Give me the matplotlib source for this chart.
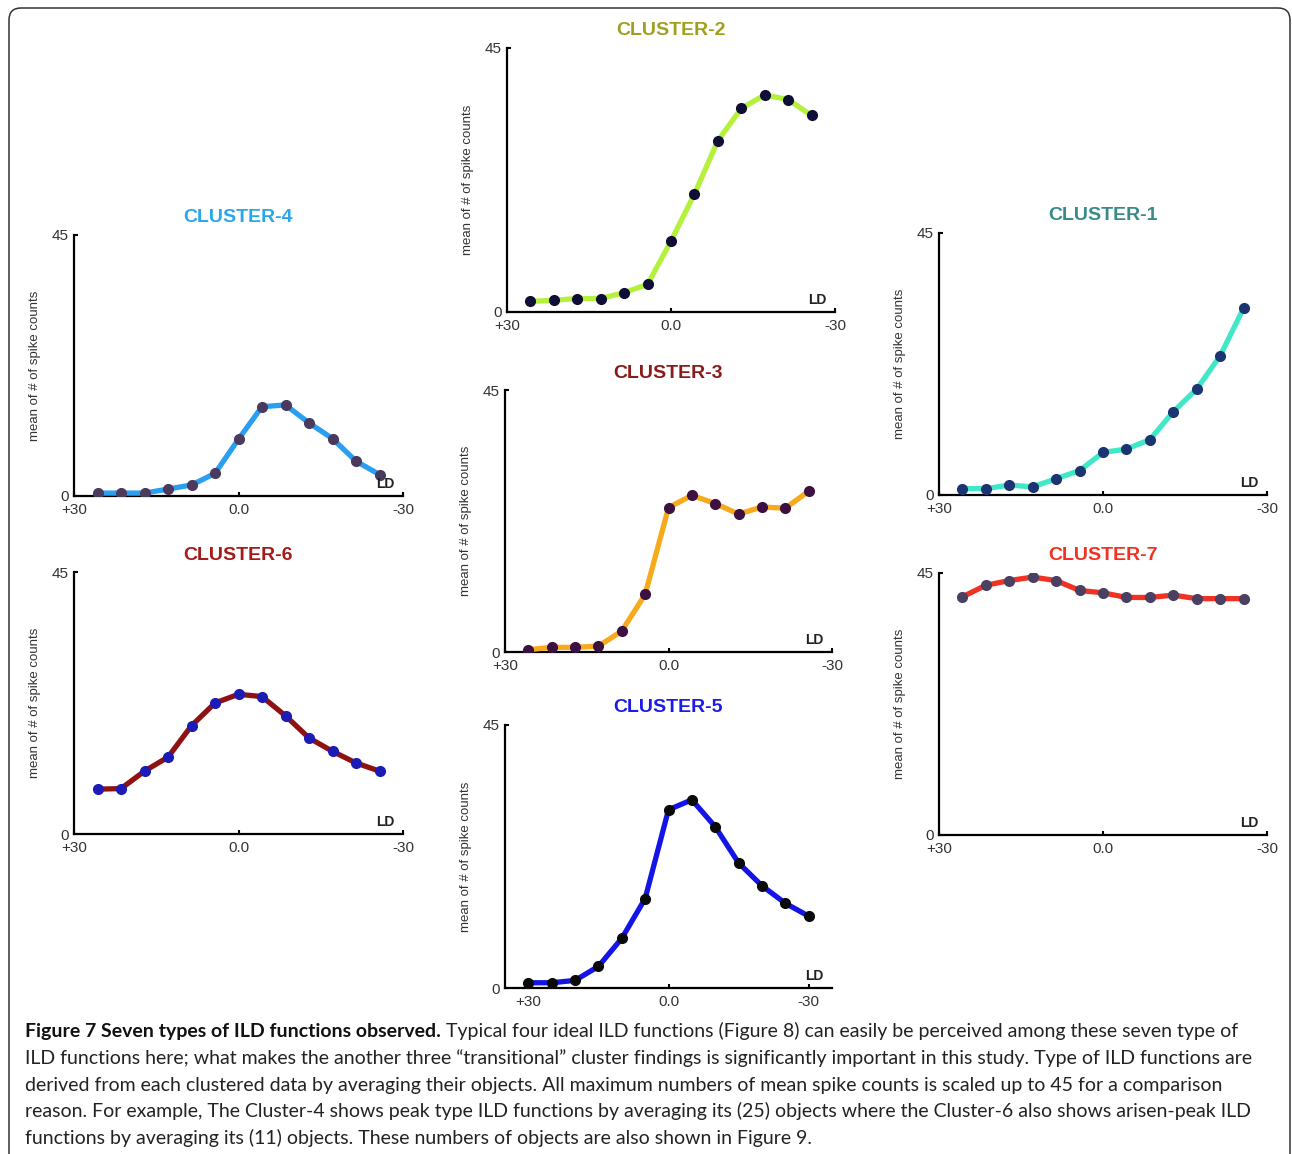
import matplotlib
matplotlib.use("Agg")
import matplotlib.pyplot as plt
from matplotlib.patches import FancyBboxPatch

W, H = 1292, 1154

# ILD steps (dB), +30 on the left to -30 on the right
ild = [30, 25, 20, 15, 10, 5, 0, -5, -10, -15, -20, -25, -30]

# mean spike counts per cluster
cluster1 = [1.1, 1.1, 1.7, 1.4, 2.8, 4.2, 7.3, 7.9, 9.5, 14.3, 18.2, 23.9, 32.1]
cluster2 = [1.8, 2.0, 2.3, 2.3, 3.3, 4.7, 12.1, 20.1, 29.2, 34.7, 37.0, 36.2, 33.5]
cluster3 = [0.4, 0.8, 0.8, 1.0, 3.6, 9.9, 24.8, 26.9, 25.5, 23.7, 24.9, 24.7, 27.6]
cluster4 = [0.5, 0.5, 0.5, 1.2, 1.9, 3.9, 9.8, 15.4, 15.7, 12.6, 9.9, 6.0, 3.7]
cluster5 = [0.9, 0.9, 1.3, 3.7, 8.5, 15.3, 30.5, 32.2, 27.6, 21.4, 17.5, 14.5, 12.3]
cluster6 = [7.7, 7.8, 10.8, 13.2, 18.6, 22.5, 24.0, 23.6, 20.3, 16.5, 14.2, 12.2, 10.8]
cluster7 = [40.9, 42.9, 43.7, 44.3, 43.7, 42.0, 41.6, 40.8, 40.8, 41.2, 40.6, 40.6, 40.6]

caption_bold = "Figure 7 Seven types of ILD functions observed."
caption_lines = [
    " Typical four ideal ILD functions (Figure 8) can easily be perceived among these seven type of",
    "ILD functions here; what makes the another three \u201ctransitional\u201d cluster findings is significantly important in this study. Type of ILD functions are",
    "derived from each clustered data by averaging their objects. All maximum numbers of mean spike counts is scaled up to 45 for a comparison",
    "reason. For example, The Cluster-4 shows peak type ILD functions by averaging its (25) objects where the Cluster-6 also shows arisen-peak ILD",
    "functions by averaging its (11) objects. These numbers of objects are also shown in Figure 9.",
]

fig = plt.figure(figsize=(W / 100, H / 100), dpi=100)

# rounded frame around the whole figure (bottom runs off the page)
frame = FancyBboxPatch((0.09, -0.3), 12.81, 11.46 + 0.3,
                       boxstyle="round,pad=0,rounding_size=0.12",
                       transform=fig.dpi_scale_trans, fill=False,
                       edgecolor="#333333", linewidth=1.1)
fig.patches.append(frame)


def panel(left, right, top, bottom, title, ys, line_c, mark_c, title_c, ticks_on_data=False):
    ax = fig.add_axes([left / W, 1 - bottom / H, (right - left) / W, (bottom - top) / H])
    ax.plot(ild, ys, color=line_c, lw=3.8, marker="o", ms=7,
            mfc=mark_c, mec=mark_c, solid_joinstyle="round", zorder=3)
    ax.set_xlim(35, -35)
    ax.set_ylim(0, 45)
    for s in ["top", "right"]:
        ax.spines[s].set_visible(False)
    for s in ["left", "bottom"]:
        ax.spines[s].set_linewidth(1.6)
        ax.spines[s].set_color("black")
    ax.set_yticks([0, 45])
    ax.set_yticklabels(["0", "45"])
    if ticks_on_data:
        ax.set_xticks([30, 0, -30])
    else:
        ax.set_xticks([35, 0, -35])
    ax.set_xticklabels(["+30", "0.0", "-30"])
    ax.tick_params(direction="in", length=3, width=1.5,
                   labelsize=11, labelcolor="#333333")
    ax.tick_params(axis="x", pad=5)
    ax.tick_params(axis="y", pad=4)
    for lab in ax.get_xticklabels() + ax.get_yticklabels():
        lab.set_family("Liberation Sans")
    w = right - left
    h = bottom - top
    ax.text(0.5, 1 + 17 / h, title, transform=ax.transAxes, ha="center", va="center",
            fontsize=14, fontweight="bold", color=title_c, family="Liberation Sans")
    ax.text(-39 / w, 0.5, "mean of # of spike counts", transform=ax.transAxes,
            rotation=90, ha="center", va="center", fontsize=9.5, color="#333333",
            family="Liberation Sans")
    ax.text(1 - 18 / w, 12 / h, "LD", transform=ax.transAxes, ha="center", va="center",
            fontsize=10, fontweight="bold", color="#222222", family="Liberation Sans")
    return ax


panel(74, 403, 235, 496, "CLUSTER-4", cluster4, "#2a9ef0", "#4b3a5e", "#2aa6ec")
panel(74, 403, 572, 834, "CLUSTER-6", cluster6, "#8e1212", "#1c1cb4", "#a51a1a")
panel(507, 835, 48, 312, "CLUSTER-2", cluster2, "#b4f03c", "#0e0e36", "#a0a020")
panel(505, 832, 390, 652, "CLUSTER-3", cluster3, "#f6aa1c", "#3c1040", "#8b1a1a")
panel(505, 832, 725, 988, "CLUSTER-5", cluster5, "#1414e6", "#0a0a0a", "#1c1ce8", ticks_on_data=True)
panel(939, 1267, 233, 495, "CLUSTER-1", cluster1, "#40e8c8", "#1a3572", "#3a8a8a")
panel(939, 1267, 573, 835, "CLUSTER-7", cluster7, "#f03222", "#4a4062", "#f03222")

# caption
cap_font = "Lato"
cap_size = 14
line_y = [1032, 1058, 1085, 1111, 1138]
t_bold = fig.text(25 / W, 1 - line_y[0] / H, caption_bold, fontsize=cap_size,
                  fontweight="bold", family=cap_font, va="center", ha="left", color="#111111")
fig.add_artist(matplotlib.text.Annotation(
    caption_lines[0], xy=(1, 0), xycoords=t_bold, va="bottom", ha="left",
    fontsize=cap_size, family=cap_font, color="#222222"))
for txt, y in zip(caption_lines[1:], line_y[1:]):
    fig.text(25 / W, 1 - y / H, txt, fontsize=cap_size, family=cap_font,
             va="center", ha="left", color="#222222")

fig.savefig("out.png", dpi=100)
